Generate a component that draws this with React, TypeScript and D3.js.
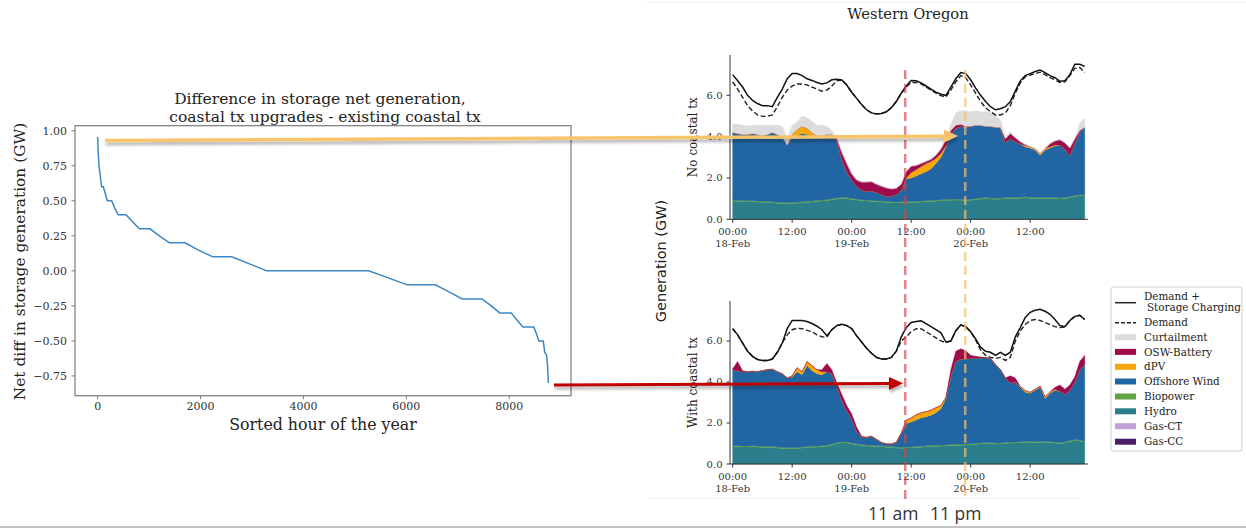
import React from "react";
import * as d3 from "d3";

const W = 1246;
const H = 529;
const SERIF = "'DejaVu Serif', serif";
const SANS = "'DejaVu Sans', sans-serif";

// ---------- Left chart data ----------
const sortedHour = [0, 10, 25, 45, 60, 78, 110, 150, 187, 272, 330, 401, 551, 680, 810, 1018, 1200, 1394, 1700, 1950, 2238, 2607, 2950, 3289, 5266, 5650, 6013, 6564, 6830, 7083, 7472, 7650, 7815, 8037, 8150, 8263, 8477, 8530, 8575, 8660, 8690, 8724, 8745, 8760];
const netDiff = [0.955, 0.85, 0.75, 0.7, 0.65, 0.6, 0.6, 0.55, 0.5, 0.5, 0.45, 0.4, 0.4, 0.35, 0.3, 0.3, 0.25, 0.2, 0.2, 0.15, 0.1, 0.1, 0.05, 0, 0, -0.05, -0.1, -0.1, -0.15, -0.2, -0.2, -0.25, -0.3, -0.3, -0.35, -0.4, -0.4, -0.45, -0.5, -0.5, -0.58, -0.6, -0.68, -0.8];
const leftXTicks = [0, 2000, 4000, 6000, 8000];
const leftYTicks = [1.0, 0.75, 0.5, 0.25, 0, -0.25, -0.5, -0.75];

// ---------- Right chart data (hourly, 18-Feb 00:00 .. 20-Feb 23:00) ----------
const hourIndex = d3.range(72);
const timeTicks = [0, 12, 24, 36, 48, 60];
const timeTickLabels = [["00:00", "18-Feb"], ["12:00"], ["00:00", "19-Feb"], ["12:00"], ["00:00", "20-Feb"], ["12:00"]];
const genTicks = [0, 2, 4, 6];

// No coastal tx
const hydroNo = [0.88,0.87,0.86,0.85,0.85,0.84,0.83,0.82,0.80,0.78,0.77,0.76,0.76,0.78,0.80,0.82,0.84,0.86,0.88,0.90,0.94,0.98,1.02,1.00,0.96,0.93,0.90,0.88,0.86,0.85,0.84,0.82,0.80,0.79,0.80,0.80,0.81,0.82,0.84,0.85,0.86,0.88,0.90,0.92,0.92,0.93,0.92,0.90,0.92,0.95,0.98,1.00,0.98,0.97,0.98,1.00,1.00,1.00,1.02,1.04,1.02,1.00,1.00,1.00,1.02,1.00,0.98,1.00,1.04,1.10,1.14,1.12];
const bioNo = [0.05,0.05,0.05,0.05,0.05,0.05,0.05,0.05,0.05,0.05,0.05,0.05,0.05,0.05,0.05,0.05,0.05,0.05,0.05,0.05,0.05,0.05,0.05,0.05,0.05,0.05,0.05,0.05,0.05,0.05,0.05,0.05,0.05,0.05,0.05,0.05,0.05,0.05,0.05,0.05,0.05,0.05,0.05,0.05,0.05,0.05,0.05,0.05,0.05,0.05,0.05,0.05,0.05,0.05,0.05,0.05,0.05,0.05,0.05,0.05,0.05,0.05,0.05,0.05,0.05,0.05,0.05,0.05,0.05,0.05,0.05,0.05];
const oswNo = [3.27,3.23,3.19,3.20,3.25,3.21,3.17,3.23,3.35,3.27,3.18,2.79,3.19,3.22,3.30,3.23,3.16,3.09,3.12,3.15,3.11,2.77,1.83,1.25,0.89,0.62,0.45,0.42,0.46,0.40,0.31,0.23,0.27,0.36,0.55,1.10,1.14,1.23,1.31,1.40,1.54,1.77,2.05,2.53,3.13,3.42,3.53,3.50,3.53,3.55,3.52,3.45,3.47,3.43,3.42,2.65,2.85,2.70,2.58,2.41,2.38,2.30,2.05,2.30,2.38,2.50,2.57,2.35,2.01,2.55,3.01,3.28];
const dpvNo = [0,0,0,0,0,0,0,0,0,0,0,0,0.1,0.3,0.35,0.3,0.15,0.05,0,0,0,0,0,0,0,0,0,0,0,0,0,0,0,0,0,0.05,0.27,0.3,0.35,0.4,0.35,0.25,0.2,0.05,0,0,0,0,0,0,0,0,0,0,0,0,0,0,0,0.07,0.05,0.06,0.08,0.07,0.06,0.04,0,0,0,0,0,0];
const battNo = [0,0,0,0,0,0,0,0,0,0,0,0,0,0,0,0,0,0,0,0,0,0.1,0.35,0.4,0.3,0.3,0.4,0.45,0.45,0.4,0.4,0.42,0.35,0.3,0.3,0.3,0.3,0.2,0.15,0.1,0.1,0.15,0.2,0.3,0.2,0.15,0.1,0.05,0,0,0,0,0,0,0,0.2,0.25,0.2,0.1,0.05,0,0,0,0,0.15,0.2,0.25,0.3,0.35,0.2,0.1,0];
const curtNo = [0.42,0.45,0.45,0.42,0.4,0.45,0.5,0.45,0.35,0.45,0.5,0.3,0.45,0.35,0.5,0.5,0.55,0.5,0.5,0.4,0.2,0,0,0,0,0,0,0,0,0,0,0,0,0,0,0,0,0,0,0,0,0,0,0,0.3,0.6,0.65,0.75,0.7,0.7,0.65,0.7,0.65,0.55,0.35,0.1,0.1,0,0,0,0,0,0,0,0,0,0,0,0,0,0.35,0.45];
const demandChgNo = [7.0,6.7,6.4,6.0,5.75,5.6,5.5,5.5,5.45,5.9,6.3,6.8,7.05,7.05,6.95,6.8,6.72,6.62,6.55,6.6,6.75,6.78,6.74,6.5,6.15,5.85,5.55,5.3,5.15,5.1,5.12,5.2,5.4,5.7,6.1,6.45,6.72,6.7,6.6,6.45,6.3,6.15,6.05,6.0,6.4,6.8,7.1,7.05,6.75,6.35,6.0,5.7,5.45,5.3,5.35,5.45,5.7,6.2,6.7,6.95,7.05,7.15,7.22,7.1,6.95,6.85,6.68,6.7,7.0,7.5,7.5,7.4];
const demandNo = [6.65,6.3,5.9,5.5,5.25,5.05,4.98,4.98,5.05,5.45,5.9,6.25,6.45,6.55,6.55,6.5,6.4,6.3,6.2,6.25,6.45,6.7,6.74,6.5,6.15,5.85,5.55,5.3,5.15,5.1,5.12,5.2,5.4,5.7,6.1,6.4,6.62,6.62,6.55,6.4,6.25,6.1,5.98,5.92,6.25,6.65,6.95,6.85,6.5,6.1,5.7,5.4,5.2,5.05,5.05,5.15,5.5,6.1,6.6,6.9,6.98,7.05,7.12,7.0,6.85,6.75,6.62,6.65,6.95,7.3,7.35,7.1];

// With coastal tx
const hydroWith = [0.84,0.84,0.83,0.83,0.84,0.83,0.82,0.81,0.80,0.78,0.76,0.75,0.74,0.76,0.78,0.80,0.82,0.83,0.84,0.86,0.92,1.00,1.04,1.02,0.98,0.94,0.90,0.88,0.86,0.84,0.84,0.82,0.80,0.78,0.77,0.78,0.78,0.80,0.82,0.84,0.86,0.86,0.88,0.88,0.90,0.92,0.92,0.93,0.94,0.96,0.98,1.00,1.00,0.98,0.98,1.00,1.02,1.02,1.04,1.06,1.05,1.04,1.05,1.06,1.04,1.02,1.00,1.02,1.10,1.14,1.12,1.06];
const bioWith = [0.05,0.05,0.05,0.05,0.05,0.05,0.05,0.05,0.05,0.05,0.05,0.05,0.05,0.05,0.05,0.05,0.05,0.05,0.05,0.05,0.05,0.05,0.05,0.05,0.05,0.05,0.05,0.05,0.05,0.05,0.05,0.05,0.05,0.05,0.05,0.05,0.05,0.05,0.05,0.05,0.05,0.05,0.05,0.05,0.05,0.05,0.05,0.05,0.05,0.05,0.05,0.05,0.05,0.05,0.05,0.05,0.05,0.05,0.05,0.05,0.05,0.05,0.05,0.05,0.05,0.05,0.05,0.05,0.05,0.05,0.05,0.05];
const oswWith = [3.71,3.66,3.62,3.62,3.63,3.62,3.68,3.74,3.77,3.67,3.59,3.40,3.46,3.69,3.52,3.95,3.68,3.52,3.46,3.59,3.43,2.75,2.01,1.53,1.17,0.61,0.35,0.37,0.44,0.31,0.16,0.11,0.13,0.22,0.68,1.15,1.22,1.30,1.38,1.41,1.47,1.59,1.77,2.27,3.35,4.03,4.15,4.14,4.16,4.16,4.14,4.15,4.10,3.82,3.57,3.15,2.88,2.93,2.66,2.39,2.35,2.51,2.65,2.09,2.36,2.53,2.50,2.33,2.45,2.81,3.43,3.74];
const dpvWith = [0,0,0,0,0,0,0,0,0,0,0,0,0.05,0.2,0.15,0.2,0.25,0.2,0.15,0,0,0,0,0,0,0,0,0,0,0,0,0,0,0,0,0.15,0.2,0.25,0.25,0.25,0.25,0.25,0.15,0.05,0,0,0,0,0,0,0,0,0,0,0,0,0,0,0.03,0.08,0.05,0.04,0.05,0.08,0.06,0.04,0,0,0,0,0,0];
const battWith = [0.05,0.45,0.05,0,0,0,0,0,0,0,0,0,0,0,0,0,0,0,0.1,0.4,0.2,0.15,0.3,0.25,0.25,0.2,0.05,0,0,0,0,0,0,0,0,0,0,0,0,0,0,0,0,0,0.3,0.5,0.5,0.4,0.15,0.08,0.05,0,0,0,0,0,0.35,0.2,0,0,0,0,0,0,0,0.1,0.3,0.25,0.25,0.25,0.4,0.45];
const demandChgWith = [6.6,6.3,5.9,5.5,5.25,5.1,5.05,5.05,5.12,5.45,5.9,6.6,7.0,7.0,7.0,6.95,6.85,6.72,6.55,6.25,6.55,6.75,6.82,6.75,6.6,6.25,5.95,5.65,5.4,5.2,5.12,5.12,5.2,5.5,6.2,6.65,6.9,6.95,6.98,6.85,6.7,6.55,6.4,5.95,6.0,6.5,6.78,6.7,6.45,6.1,5.7,5.5,5.45,5.3,5.45,5.3,5.45,6.2,6.65,7.15,7.4,7.5,7.55,7.45,7.3,7.05,6.75,6.7,7.0,7.2,7.25,7.05];
const demandWith = [6.6,6.3,5.9,5.5,5.25,5.1,5.05,5.05,5.12,5.45,5.9,6.3,6.55,6.62,6.6,6.52,6.45,6.3,6.2,6.2,6.55,6.75,6.82,6.75,6.6,6.25,5.95,5.65,5.4,5.2,5.12,5.12,5.2,5.5,6.0,6.2,6.45,6.6,6.6,6.45,6.3,6.15,6.0,5.92,6.0,6.5,6.78,6.7,6.45,6.05,5.55,5.3,5.2,5.15,5.2,5.05,5.2,6.0,6.5,6.8,7.0,7.05,7.0,6.9,6.8,6.7,6.65,6.68,7.0,7.2,7.25,7.05];

// ---------- Legend ----------
const legendNames = ["Curtailment", "OSW-Battery", "dPV", "Offshore Wind", "Biopower", "Hydro", "Gas-CT", "Gas-CC"];
const legendColors = ["#dcdcdc", "#9e0b4d", "#f6a70b", "#2265a3", "#5ea447", "#2b7e8b", "#c3a2dc", "#4a1d6b"];
const colorOf = (n: string) => legendColors[legendNames.indexOf(n)];

type Layer = { key: string; values: number[] };

function Panel(props: { yTop: number; yBottom: number; layers: Layer[]; total: number[]; demand: number[]; label: string }) {
  const { yTop, yBottom, layers, total, demand, label } = props;
  const x = d3.scaleLinear().domain([-0.54, 71.66]).range([730, 1088]);
  const y = d3.scaleLinear().domain([0, 7.95]).range([yBottom, yTop]);
  const rows = hourIndex.map((i) => {
    const r: Record<string, number> = {};
    layers.forEach((l) => (r[l.key] = l.values[i]));
    return r;
  });
  const series = d3.stack<Record<string, number>>().keys(layers.map((l) => l.key))(rows);
  const area = d3
    .area<d3.SeriesPoint<Record<string, number>>>()
    .x((_, i) => x(i))
    .y0((d) => y(d[0]))
    .y1((d) => y(d[1]));
  const line = d3
    .line<number>()
    .x((_, i) => x(i))
    .y((d) => y(d));
  return (
    <g>
      {series.map((s) => (
        <path key={s.key} d={area(s) || ""} fill={colorOf(s.key)} stroke={colorOf(s.key)} strokeWidth={0.4} />
      ))}
      <path d={line(demand) || ""} fill="none" stroke="#222" strokeWidth={1.4} strokeDasharray="5,2.5" />
      <path d={line(total) || ""} fill="none" stroke="#111" strokeWidth={1.5} />
      <line x1={730} x2={730} y1={yTop} y2={yBottom} stroke="#333" strokeWidth={1} />
      <line x1={730} x2={1088} y1={yBottom} y2={yBottom} stroke="#333" strokeWidth={1} />
      {genTicks.map((t) => (
        <g key={t}>
          <line x1={726.5} x2={730} y1={y(t)} y2={y(t)} stroke="#333" />
          <text x={722.5} y={y(t)} dy="0.35em" textAnchor="end" fontFamily={SERIF} fontSize={10} fill="#333">
            {t.toFixed(1)}
          </text>
        </g>
      ))}
      {timeTicks.map((t, i) => (
        <g key={t}>
          <line x1={x(t)} x2={x(t)} y1={yBottom} y2={yBottom + 3.5} stroke="#333" />
          {timeTickLabels[i].map((s, j) => (
            <text key={j} x={x(t)} y={yBottom + 12.5 + j * 11.5} dy="0.35em" textAnchor="middle" fontFamily={SERIF} fontSize={10} fill="#333">
              {s}
            </text>
          ))}
        </g>
      ))}
      <text transform={`translate(693,${(yTop + yBottom) / 2 + 0}) rotate(-90)`} textAnchor="middle" dy="0.35em" fontFamily={SERIF} fontSize={12} fill="#222">
        {label}
      </text>
    </g>
  );
}

function LeftChart() {
  const x = d3.scaleLinear().domain([-440, 9200]).range([75, 571]);
  const y = d3.scaleLinear().domain([-0.891, 1.036]).range([395.7, 125.7]);
  const line = d3
    .line<number>()
    .x((_, i) => x(sortedHour[i]))
    .y((d) => y(d));
  return (
    <g>
      <rect x={75} y={125.7} width={496} height={270} fill="none" stroke="#7a7a7a" strokeWidth={1.2} />
      <path d={line(netDiff) || ""} fill="none" stroke="#3a86c5" strokeWidth={1.5} />
      {leftYTicks.map((t) => (
        <g key={t}>
          <line x1={71.5} x2={75} y1={y(t)} y2={y(t)} stroke="#7a7a7a" />
          <text x={67} y={y(t)} dy="0.35em" textAnchor="end" fontFamily={SERIF} fontSize={11} fill="#333">
            {t < 0 ? "\u2212" + Math.abs(t).toFixed(2) : t.toFixed(2)}
          </text>
        </g>
      ))}
      {leftXTicks.map((t) => (
        <g key={t}>
          <line x1={x(t)} x2={x(t)} y1={395.7} y2={399.2} stroke="#7a7a7a" />
          <text x={x(t)} y={406.5} dy="0.35em" textAnchor="middle" fontFamily={SERIF} fontSize={11} fill="#333">
            {t}
          </text>
        </g>
      ))}
      <text x={323} y={424.5} dy="0.35em" textAnchor="middle" fontFamily={SERIF} fontSize={15.8} fill="#222">
        Sorted hour of the year
      </text>
      <text transform="translate(20,261.5) rotate(-90)" dy="0.35em" textAnchor="middle" fontFamily={SERIF} fontSize={15.4} fill="#222">
        Net diff in storage generation (GW)
      </text>
      <text x={320} y={98.5} dy="0.35em" textAnchor="middle" fontFamily={SERIF} fontSize={15.5} fill="#222">
        Difference in storage net generation,
      </text>
      <text x={325} y={117} dy="0.35em" textAnchor="middle" fontFamily={SERIF} fontSize={15.5} fill="#222">
        coastal tx upgrades - existing coastal tx
      </text>
    </g>
  );
}

function Legend() {
  const rowY = [337.3, 351.9, 366.8, 381.5, 396.5, 411.3, 426.2, 441.7];
  return (
    <g fontFamily={SERIF} fontSize={10.4} fill="#222">
      <rect x={1111} y={287} width={131} height={164} rx={2} fill="#fff" stroke="#d0d0d0" strokeWidth={1} />
      <line x1={1115} x2={1136} y1={302.7} y2={302.7} stroke="#222" strokeWidth={1.5} />
      <text x={1144} y={296} dy="0.35em">Demand +</text>
      <text x={1147} y={307} dy="0.35em">Storage Charging</text>
      <line x1={1115} x2={1136} y1={322.7} y2={322.7} stroke="#222" strokeWidth={1.4} strokeDasharray="4,2" />
      <text x={1144} y={322.7} dy="0.35em">Demand</text>
      {legendNames.map((n, i) => (
        <g key={n}>
          <rect x={1115} y={rowY[i] - 3} width={21} height={6} fill={legendColors[i]} />
          <text x={1144} y={rowY[i]} dy="0.35em">{n}</text>
        </g>
      ))}
    </g>
  );
}

export default function App() {
  const x = d3.scaleLinear().domain([-0.54, 71.66]).range([730, 1088]);
  const topLayers: Layer[] = [
    { key: "Hydro", values: hydroNo },
    { key: "Biopower", values: bioNo },
    { key: "Offshore Wind", values: oswNo },
    { key: "dPV", values: dpvNo },
    { key: "OSW-Battery", values: battNo },
    { key: "Curtailment", values: curtNo },
  ];
  const bottomLayers: Layer[] = [
    { key: "Hydro", values: hydroWith },
    { key: "Biopower", values: bioWith },
    { key: "Offshore Wind", values: oswWith },
    { key: "dPV", values: dpvWith },
    { key: "OSW-Battery", values: battWith },
  ];
  const redHour = 34.8;
  const yellowHour = 46.9;
  return (
    <svg width={W} height={H} style={{ position: "absolute", left: 0, top: 0, background: "#fff" }}>
      <defs>
        <filter id="shadow" x="-5%" y="-200%" width="110%" height="500%">
          <feDropShadow dx="1" dy="3" stdDeviation="1.8" floodColor="#000" floodOpacity="0.3" />
        </filter>
      </defs>
      <rect width={W} height={H} fill="#fff" />
      <line x1={645} x2={W} y1={2} y2={2} stroke="#f0f0f0" strokeWidth={1} />
      <line x1={648} x2={1080} y1={498} y2={498} stroke="#f2f2f2" strokeWidth={1} />
      <line x1={0} x2={W} y1={527} y2={527} stroke="#c4c4c4" strokeWidth={2} />

      <LeftChart />

      <text x={908} y={14} dy="0.35em" textAnchor="middle" fontFamily={SERIF} fontSize={14.7} fill="#222">
        Western Oregon
      </text>
      <text transform="translate(660.5,261) rotate(-90)" dy="0.35em" textAnchor="middle" fontFamily={SANS} fontSize={14.5} fill="#222">
        Generation (GW)
      </text>
      <Panel yTop={55} yBottom={219.3} layers={topLayers} total={demandChgNo} demand={demandNo} label="No coastal tx" />
      <Panel yTop={301} yBottom={464} layers={bottomLayers} total={demandChgWith} demand={demandWith} label="With coastal tx" />
      <Legend />

      <line x1={x(redHour)} x2={x(redHour)} y1={70} y2={500} stroke="#d9404a" strokeOpacity={0.65} strokeWidth={2.5} strokeDasharray="9,5" />
      <line x1={x(yellowHour)} x2={x(yellowHour)} y1={70} y2={496} stroke="#f2c16e" strokeOpacity={0.7} strokeWidth={2.5} strokeDasharray="9,5" />

      <g filter="url(#shadow)">
        <line x1={105} y1={140.5} x2={945} y2={136.2} stroke="#f7c46c" strokeWidth={3.5} />
        <polygon points="958,136 944,129.5 944,142.5" fill="#f7c46c" />
      </g>
      <g filter="url(#shadow)">
        <line x1={554} y1={385} x2={890} y2={383.5} stroke="#c00000" strokeWidth={3} />
        <polygon points="903,383.3 889,377 889,390" fill="#c00000" />
      </g>

      <text x={868} y={520} fontFamily="'Open Sans', sans-serif" fontSize={17.5} fill="#333">11 am</text>
      <text x={930} y={520} fontFamily="'Open Sans', sans-serif" fontSize={17.5} fill="#333">11 pm</text>
    </svg>
  );
}
